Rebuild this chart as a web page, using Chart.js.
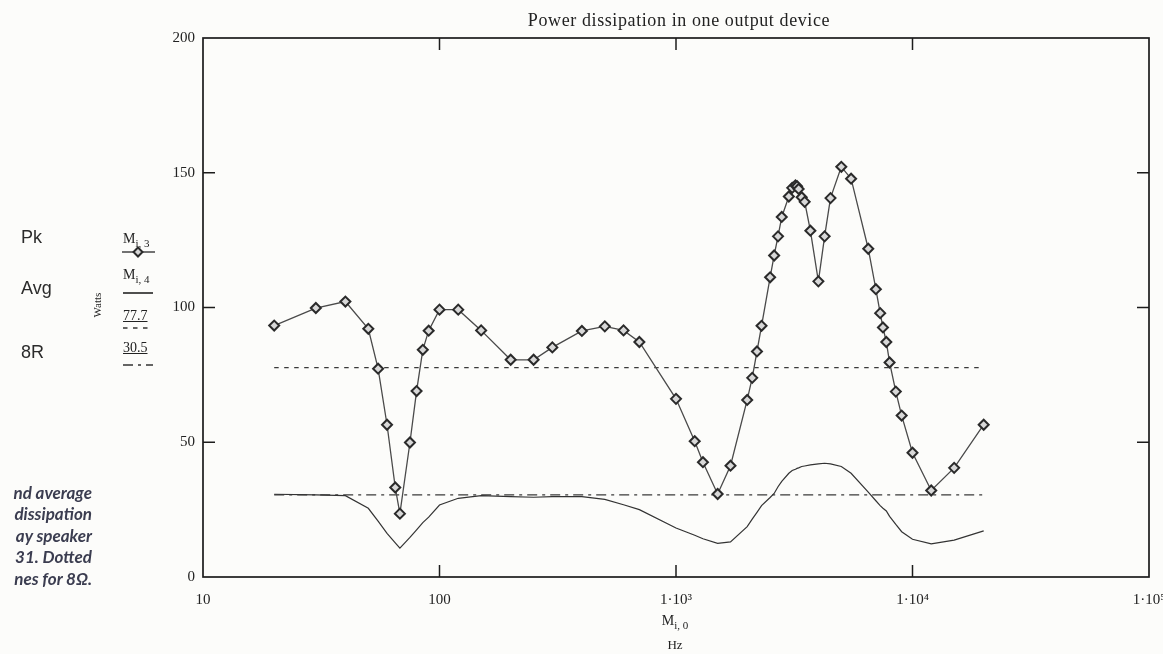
<!DOCTYPE html>
<html lang="en">
<head>
<meta charset="UTF-8">
<title>Power dissipation in one output device</title>
<script src="https://cdn.jsdelivr.net/npm/chart.js"></script>
<style>
    body {
        margin: 0;
        background: #fcfcfa;
    }
    .page {
        position: relative;
        width: 1163px;
        height: 654px;
        overflow: hidden;
        background: #fcfcfa;
        font-family: 'Liberation Serif', serif;
        color: #222;
    }
    #chart { position: absolute; left: 0; top: 0; }
    .abs { position: absolute; white-space: nowrap; }
    .title { left: 679px; top: 11px; transform: translateX(-50%); font-size: 18px; line-height: 18px; letter-spacing: 0.6px; }
    .key { left: 21px; font-family: 'Liberation Sans', Arial, sans-serif; font-size: 18px; line-height: 18px; color: #2b2b2b; }
    .var { left: 123px; font-size: 14px; line-height: 14px; }
    .var sub { font-size: 11px; vertical-align: -4px; line-height: 0; }
    .num { left: 123px; font-size: 14px; line-height: 14px; text-decoration: underline; }
    .watts { left: 97px; top: 305px; font-size: 11px; transform: translate(-50%, -50%) rotate(-90deg); }
    .caption {
        right: 1071px; top: 482px; text-align: right;
        font-family: Lato, 'Open Sans', sans-serif; font-style: italic; font-weight: 700;
        font-size: 17px; line-height: 21.4px; color: #3b3d50;
    }
    .xname { left: 675px; transform: translateX(-50%); text-align: center; }
</style>
</head>
<body>
<div class="page">
    <canvas id="chart" width="1163" height="654"></canvas>

    <div class="abs title">Power dissipation in one output device</div>

    <!-- Mathcad style legend on the left -->
    <div class="abs key" style="top:228px">Pk</div>
    <div class="abs key" style="top:279px">Avg</div>
    <div class="abs key" style="top:343px">8R</div>
    <div class="abs var" style="top:232px">M<sub>i, 3</sub></div>
    <div class="abs var" style="top:268px">M<sub>i, 4</sub></div>
    <div class="abs num" style="top:309px">77.7</div>
    <div class="abs num" style="top:341px">30.5</div>
    <div class="abs watts">Watts</div>
    <svg class="abs" style="left:0;top:0" width="200" height="400">
        <line x1="122" y1="252" x2="155" y2="252" stroke="#444" stroke-width="1.3"/>
        <polygon points="138,247.5 142.5,252 138,256.5 133.5,252" fill="#d8d8d8" stroke="#2a2a2a" stroke-width="2"/>
        <line x1="123" y1="293" x2="153" y2="293" stroke="#222" stroke-width="1.6"/>
        <line x1="123" y1="328" x2="150" y2="328" stroke="#333" stroke-width="1.4" stroke-dasharray="4.5 5.5"/>
        <line x1="123" y1="365" x2="153" y2="365" stroke="#333" stroke-width="1.4" stroke-dasharray="10 5 3 5"/>
    </svg>

    <div class="abs caption">nd average<br>dissipation<br>ay speaker<br>31. Dotted<br>nes for 8Ω.</div>

    <div class="abs xname" style="top:614px; font-size:14px; line-height:14px">M<sub style="font-size:11px;vertical-align:-4px;line-height:0">i, 0</sub></div>
    <div class="abs xname" style="top:638px; font-size:13px; line-height:13px">Hz</div>
</div>

<script>
    // frequency points (Hz)
    const freqHz = [20, 30, 40, 50, 55, 60, 65, 68, 75, 80,
        85, 90, 100, 120, 150, 200, 250, 300, 400, 500,
        600, 700, 1000, 1200, 1300, 1500, 1700, 2000, 2100, 2200,
        2300, 2500, 2600, 2700, 2800, 3000, 3100, 3200, 3250, 3300,
        3400, 3500, 3700, 4000, 4250, 4500, 5000, 5500, 6500, 7000,
        7300, 7500, 7750, 8000, 8500, 9000, 10000, 12000, 15000, 20000];

    // peak dissipation M[i,3] (W)
    const peakW = [93.3, 99.8, 102.2, 92.1, 77.3, 56.5, 33.2, 23.5, 49.9, 69.0,
        84.3, 91.4, 99.2, 99.2, 91.5, 80.6, 80.6, 85.2, 91.3, 93.0,
        91.5, 87.2, 66.1, 50.4, 42.6, 30.8, 41.3, 65.7, 73.9, 83.7,
        93.2, 111.2, 119.3, 126.4, 133.6, 141.2, 144.4, 145.3, 145.0, 144.0,
        140.9, 139.2, 128.5, 109.7, 126.4, 140.6, 152.2, 147.8, 121.8, 106.8,
        97.9, 92.6, 87.2, 79.6, 68.8, 59.9, 46.1, 32.1, 40.5, 56.5];

    // average dissipation M[i,4] (W)
    const avgW = [30.7, 30.5, 30.2, 25.5, 20.7, 16.2, 12.7, 10.7, 14.7, 17.5,
        20.2, 22.2, 26.7, 29.2, 30.2, 29.8, 29.6, 29.8, 29.8, 28.8,
        26.8, 25.0, 18.2, 15.5, 14.2, 12.5, 13.0, 18.7, 21.5, 24.0,
        26.5, 29.5, 31.0, 33.5, 35.5, 38.5, 39.5, 40.0, 40.3, 40.5,
        41.0, 41.2, 41.6, 42.0, 42.2, 42.0, 41.0, 38.5, 31.5, 28.3,
        26.5, 25.5, 24.5, 22.5, 19.5, 16.8, 14.0, 12.3, 13.7, 17.1];

    // reference levels: overall average, and 8 ohm resistive
    const avgLevel = 77.7;
    const resLevel = 30.5;
    const levelSpan = [20, 20000];

    const xTicks = [10, 100, 1000, 10000, 100000];
    const yTicks = [0, 50, 100, 150, 200];
    const innerXTicks = [100, 1000, 10000];
    const innerYTicks = [50, 100, 150];

    const sup = { 3: '\u00B3', 4: '\u2074', 5: '\u2075' };
    const tickFont = { family: "'Liberation Serif', serif", size: 15 };

    // box round the plot with inward tick marks, like Mathcad draws it
    const framePlugin = {
        id: 'frame',
        afterDraw(chart) {
            const { ctx, chartArea: a, scales: { x, y } } = chart;
            const len = 12;
            ctx.save();
            ctx.strokeStyle = '#1c1c1c';
            ctx.lineWidth = 1.7;
            ctx.strokeRect(a.left, a.top, a.right - a.left, a.bottom - a.top);
            ctx.lineWidth = 1.5;
            ctx.beginPath();
            innerXTicks.forEach(v => {
                const px = x.getPixelForValue(v);
                ctx.moveTo(px, a.bottom); ctx.lineTo(px, a.bottom - len);
                ctx.moveTo(px, a.top); ctx.lineTo(px, a.top + len);
            });
            innerYTicks.forEach(v => {
                const py = y.getPixelForValue(v);
                ctx.moveTo(a.left, py); ctx.lineTo(a.left + len, py);
                ctx.moveTo(a.right, py); ctx.lineTo(a.right - len, py);
            });
            ctx.stroke();
            ctx.restore();
        }
    };

    const ctx = document.getElementById('chart').getContext('2d');
    new Chart(ctx, {
        type: 'line',
        data: {
            datasets: [
                {
                    label: 'Pk',
                    data: freqHz.map((f, i) => ({ x: f, y: peakW[i] })),
                    borderColor: '#4a4a4a',
                    borderWidth: 1.3,
                    pointStyle: 'rectRot',
                    pointRadius: 5,
                    pointBorderWidth: 2,
                    pointBorderColor: '#2a2a2a',
                    pointBackgroundColor: '#d8d8d8',
                    tension: 0
                },
                {
                    label: 'Avg',
                    data: freqHz.map((f, i) => ({ x: f, y: avgW[i] })),
                    borderColor: '#333',
                    borderWidth: 1.2,
                    pointRadius: 0,
                    tension: 0
                },
                {
                    label: '77.7',
                    data: levelSpan.map(f => ({ x: f, y: avgLevel })),
                    borderColor: '#3a3a3a',
                    borderWidth: 1.3,
                    borderDash: [4.5, 5.5],
                    pointRadius: 0
                },
                {
                    label: '30.5',
                    data: levelSpan.map(f => ({ x: f, y: resLevel })),
                    borderColor: '#3a3a3a',
                    borderWidth: 1.3,
                    borderDash: [10, 5, 3, 5],
                    pointRadius: 0
                }
            ]
        },
        options: {
            responsive: false,
            animation: false,
            devicePixelRatio: 1,
            layout: { padding: { left: 163, right: 14, top: 38, bottom: 0 } },
            plugins: {
                legend: { display: false },
                tooltip: { enabled: false }
            },
            scales: {
                x: {
                    type: 'logarithmic',
                    min: 10,
                    max: 100000,
                    grid: { display: false, drawTicks: false },
                    border: { display: false },
                    afterBuildTicks: axis => { axis.ticks = xTicks.map(v => ({ value: v })); },
                    afterFit: axis => { axis.height = 77; axis.paddingLeft = 0; axis.paddingRight = 0; },
                    ticks: {
                        autoSkip: false,
                        maxRotation: 0,
                        padding: 14,
                        color: '#222',
                        font: tickFont,
                        callback: v => v < 1000 ? String(v) : '1\u00B710' + sup[Math.round(Math.log10(v))]
                    }
                },
                y: {
                    min: 0,
                    max: 200,
                    grid: { display: false, drawTicks: false },
                    border: { display: false },
                    afterBuildTicks: axis => { axis.ticks = yTicks.map(v => ({ value: v })); },
                    afterFit: axis => { axis.width = 40; },
                    ticks: {
                        padding: 8,
                        color: '#222',
                        font: tickFont
                    }
                }
            }
        },
        plugins: [framePlugin]
    });
</script>
</body>
</html>
